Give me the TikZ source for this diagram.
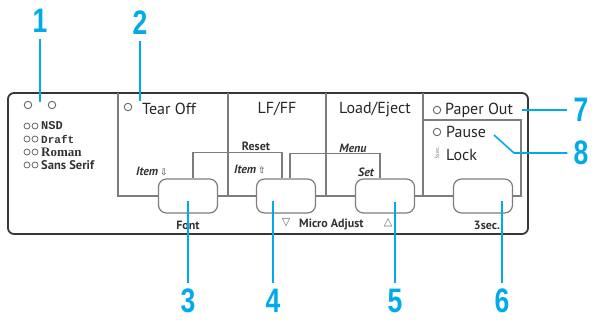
\documentclass[tikz,border=0pt]{standalone}
\usepackage{fontspec}
\setmainfont{PT Sans}
\newfontfamily\numfont[FakeStretch=0.78]{Liberation Sans}
\newfontfamily\symfont{DejaVu Sans}
\newfontfamily\monofont{Liberation Mono}
\newfontfamily\seriffont{Liberation Serif}
\usepackage{tikz}
\usetikzlibrary{positioning, calc}
\definecolor{callout}{RGB}{0, 170, 235}
\definecolor{frame}{RGB}{55, 55, 55}
\definecolor{divider}{RGB}{125, 125, 125}
\tikzset{
    panel/.style={draw=frame, line width=1.8pt, rounded corners=6pt},
    divline/.style={draw=divider, line width=1.3pt},
    thickdiv/.style={draw=divider, line width=2.6pt},
    keybtn/.style={rectangle, rounded corners=8pt, draw=divider, line width=1.2pt, fill=white, minimum width=59pt, minimum height=34pt},
    lamp/.style={circle, draw=gray!80!black, line width=0.9pt, minimum size=7.5pt, inner sep=0pt},
    fontlamp/.style={circle, draw=gray!70!black, line width=0.7pt, minimum size=6pt, inner sep=0pt},
    keylabel/.style={font=\fontsize{16}{16}\selectfont, text=black!85, inner sep=0pt},
    sublabel/.style={font=\fontsize{12}{12}\selectfont\bfseries, text=black!80, inner sep=0pt},
    fontname/.style={text=black!80, inner sep=0pt, anchor=west},
    callnum/.style={font=\numfont\bfseries\fontsize{34}{34}\selectfont, text=callout, inner sep=6pt},
    callline/.style={draw=callout, line width=1.6pt}
}
\newcommand{\arrsym}[1]{{\symfont\upshape\mdseries\fontsize{9}{9}\selectfont #1}}

\begin{document}
\begin{tikzpicture}[x=1pt, y=-1pt]
    \useasboundingbox (0,0) rectangle (595,324);

    % Panel
    \draw[panel] (8,93) rectangle (528,234);

    \node[keybtn] (btnFont) at (188,196) {};
    \node[keybtn] (btnLF) at (286,196) {};
    \node[keybtn] (btnLoad) at (385,196) {};
    \node[keybtn] (btnPause) at (483,196) {};

    \draw[divline] (118,93) -- (118,196) -- (btnFont.west);
    \draw[thickdiv] (228,93) -- (228,196);
    \draw[thickdiv] (326,93) -- (326,196);
    \draw[divline] (423,93) -- (423,196);
    \draw[divline] (423,120) -- (521,120) -- (521,196) -- (btnPause.east);
    \draw[divline] (btnFont.east) -- (btnLF.west);
    \draw[divline] (btnLF.east) -- (btnLoad.west);
    \draw[divline] (btnLoad.east) -- (btnPause.west);
    \draw[divline] ([xshift=5pt]btnFont.north) -- ++(0,-26) -| ([xshift=-4pt]btnLF.north);
    \draw[divline] ([xshift=4pt]btnLF.north) -- ++(0,-25) -| ([xshift=-5pt]btnLoad.north);

    % Lamps and font list
    \node[lamp] (lampA) at (28,105) {};
    \node[lamp] (lampB) at (52,105) {};
    \foreach \y/\fname [count=\i] in {126/{\monofont\bfseries\fontsize{12}{12}\selectfont NSD}, 139/{\monofont\bfseries\fontsize{11}{11}\selectfont Draft}, 152/{\seriffont\bfseries\fontsize{13}{13}\selectfont Roman}, 165/{\bfseries\fontsize{12.5}{12.5}\selectfont Sans Serif}} {
        \node[fontlamp] (fontlampA\i) at (27,\y) {};
        \node[fontlamp] (fontlampB\i) at (35,\y) {};
        \node[fontname] (fontname\i) at (41,\y) {\fname};
    }

    % Key labels
    \node[lamp] (lampTear) at (128,107) {};
    \node[keylabel, anchor=west] (tearoff) at (142,109) {Tear Off};
    \node[keylabel] (lfff) at (277,109) {LF/FF};
    \node[keylabel] (loadeject) at (375,109) {Load/Eject};
    \node[lamp] (lampPaper) at (437,110) {};
    \node[keylabel, anchor=west] (paperout) at (445,110) {Paper Out};
    \node[lamp] (lampPause) at (437,132) {};
    \node[keylabel, anchor=west] (pause) at (446,132) {Pause};
    \node[keylabel, anchor=west] (lock) at (446,155) {Lock};
    \node[font=\fontsize{6}{6}\selectfont, text=gray, rotate=90, inner sep=0pt] (locksec) at (437,153) {3sec.};

    \node[sublabel, anchor=west] (itemdown) at (136,171) {\itshape Item\,\arrsym{⇩}};
    \node[sublabel] (reset) at (256,146) {Reset};
    \node[sublabel, anchor=west] (itemup) at (234,169) {\itshape Item\,\arrsym{⇧}};
    \node[sublabel] (menu) at (353,148) {\itshape Menu};
    \node[sublabel] (set) at (366,172) {\itshape Set};
    \node[sublabel] (font) at (188,225) {Font};
    \node[sublabel, font=\symfont\fontsize{11}{11}\selectfont, text=gray!80!black] (microdown) at (286,223) {▽};
    \node[sublabel, anchor=west] (microadjust) at (299,224) {Micro Adjust};
    \node[sublabel, font=\symfont\fontsize{11}{11}\selectfont, text=gray!80!black] (microup) at (388,223) {△};
    \node[sublabel] (threesec) at (487,225) {3sec.};

    % Callouts
    \node[callnum] (num1) at (40,21) {1};
    \node[callnum] (num2) at (140,23) {2};
    \node[callnum] (num3) at (188,301) {3};
    \node[callnum] (num4) at (273,301) {4};
    \node[callnum] (num5) at (395,301) {5};
    \node[callnum] (num6) at (502,301) {6};
    \node[callnum] (num7) at (581,110) {7};
    \node[callnum] (num8) at (581,153) {8};

    \coordinate (tip1) at (40,102);
    \coordinate (tip2) at (140,101);
    \coordinate (tip3) at (188,201);
    \coordinate (tip4) at (273,201);
    \coordinate (tip5) at (395,202);
    \coordinate (tip6) at (502,201);
    \coordinate (tip7) at (522,110);
    \coordinate (tip8) at (494,135);
    \coordinate (bend8) at (514,153);

    \draw[callline] (num1) -- (tip1);
    \draw[callline] (num2) -- (tip2);
    \draw[callline] (num3) -- (tip3);
    \draw[callline] (num4) -- (tip4);
    \draw[callline] (num5) -- (tip5);
    \draw[callline] (num6) -- (tip6);
    \draw[callline] (tip7) -- (num7);
    \draw[callline] (tip8) -- (bend8) -- (num8);

\end{tikzpicture}
\end{document}
